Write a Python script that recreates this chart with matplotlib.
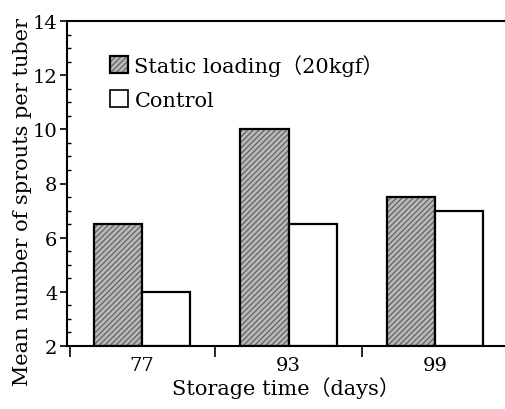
import matplotlib
matplotlib.use("Agg")
import matplotlib.pyplot as plt
import numpy as np
from matplotlib.ticker import MultipleLocator, FixedLocator

categories = ["77", "93", "99"]
static_loading = [6.5, 10.0, 7.5]
control = [4.0, 6.5, 7.0]
series_labels = ["Static loading（20kgf）", "Control"]

plt.rcParams['font.family'] = ['DejaVu Serif', 'Noto Sans CJK JP']
plt.rcParams['hatch.linewidth'] = 0.8

fig = plt.figure(figsize=(5.05, 4.10), dpi=100)
ax = fig.add_axes([0.133, 0.154, 0.865, 0.792])

x = np.arange(len(categories))
w = 0.33
s = np.array(static_loading)
c = np.array(control)
b1h = ax.bar(x - w/2, s - 2, w, bottom=2, facecolor='#b8b8b8',
             edgecolor='#5a5a5a', linewidth=0, hatch='//////')
b1o = ax.bar(x - w/2, s - 2, w, bottom=2, facecolor='none',
             edgecolor='black', linewidth=1.6)
b2 = ax.bar(x + w/2, c - 2, w, bottom=2, facecolor='white',
            edgecolor='black', linewidth=1.6)

ax.set_ylim(2, 14)
ax.set_xlim(-0.51, 2.47)
ax.yaxis.set_major_locator(MultipleLocator(2))
ax.yaxis.set_minor_locator(MultipleLocator(0.5))
ax.tick_params(axis='y', which='major', direction='out', length=5, width=1.2, labelsize=14, pad=2)
ax.tick_params(axis='y', which='minor', direction='in', length=3, width=1.0)

ax.set_xticks(x)
ax.set_xticklabels(categories)
ax.xaxis.set_minor_locator(FixedLocator([-0.49, 0.5, 1.5]))
ax.tick_params(axis='x', which='major', length=0, labelsize=14, pad=7)
ax.tick_params(axis='x', which='minor', direction='out', length=8, width=1.2)

ax.spines['right'].set_visible(False)
for sp in ['left', 'bottom', 'top']:
    ax.spines[sp].set_linewidth(1.5)

ax.set_xlabel("Storage time（days）", fontsize=15, labelpad=2)
ax.set_ylabel("Mean number of sprouts per tuber", fontsize=15)
ax.yaxis.set_label_coords(-0.08, 0.446)

leg = ax.legend([(b1h[0], b1o[0]), b2[0]], series_labels, loc='upper left',
                bbox_to_anchor=(0.08, 0.925), frameon=False,
                fontsize=15, handlelength=0.85, handleheight=0.85, handletextpad=0.3,
                labelspacing=0.7, borderaxespad=0)
leg.legend_handles[1].set_linewidth(1.2)

fig.savefig("out.png", dpi=100)
